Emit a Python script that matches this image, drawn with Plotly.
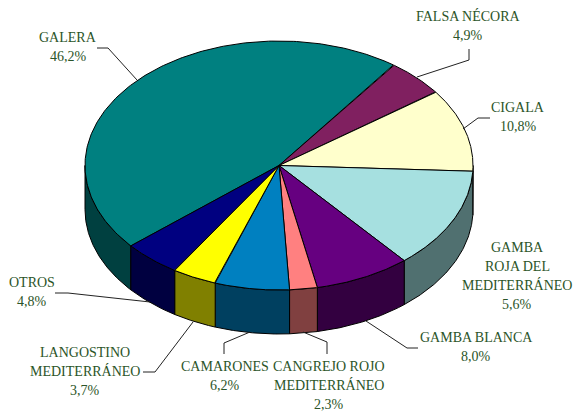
import numpy as np
import plotly.graph_objects as go

# Slices, clockwise from the Galera / Falsa nécora ordering of the reference.
species = ["GALERA", "FALSA NÉCORA", "CIGALA", "GAMBA ROJA DEL MEDITERRÁNEO", "GAMBA BLANCA",
           "CANGREJO ROJO MEDITERRÁNEO", "CAMARONES", "LANGOSTINO MEDITERRÁNEO", "OTROS"]
# Slice sizes as drawn. The reference prints 5,6% for Gamba roja, but its slice is drawn about 13,1% wide.
drawn_share = [46.2, 4.9, 10.8, 13.1, 8.0, 2.3, 6.2, 3.7, 4.8]
printed_label = ["46,2%", "4,9%", "10,8%", "5,6%", "8,0%", "2,3%", "6,2%", "3,7%", "4,8%"]
label_lines = [["GALERA"], ["FALSA NÉCORA"], ["CIGALA"], ["GAMBA", "ROJA DEL", "MEDITERRÁNEO"], ["GAMBA BLANCA"],
               ["CANGREJO ROJO", "MEDITERRÁNEO"], ["CAMARONES"], ["LANGOSTINO", "MEDITERRÁNEO"], ["OTROS"]]
top_colors = ["#008080", "#802060", "#FFFFCC", "#A6E0E0", "#660080", "#FF8080", "#0080C0", "#FFFF00", "#000080"]
side_colors = ["#004040", "#401030", "#808066", "#507070", "#330040", "#804040", "#004060", "#808000", "#000040"]

# Layout (pixel-like axes)
CX, CY, RX, RY, DEPTH = 279, 165.5, 194, 124.5, 44
START = -130.2  # clockwise degrees from top where Galera begins
TEXT = "#2B5428"
FONT = "Liberation Serif"
FS = 14
LINE = 19.2
label_pos = [(68, 37.5), (468, 16), (518, 107), (517, 247), (476, 337),
             (329, 366), (225, 366), (85, 352), (32, 282)]
leaders = [
    [(97, 48), (108, 48), (137, 80)],
    [(469, 49), (469, 60), (417, 77)],
    [(490, 118), (478, 118), (463, 129)],
    None,
    [(418, 348), (407, 348), (366, 321)],
    [(327, 354), (327, 342), (303, 332)],
    [(224, 354), (224, 343), (250, 332)],
    [(143, 372), (155, 372), (193, 322)],
    [(55, 293), (68, 293), (150, 302)],
]


def px(a):
    return CX + RX * np.sin(np.radians(a))


def py(a, drop=0.0):
    return CY - RY * np.cos(np.radians(a)) + drop


fig = go.Figure()
edges = START + np.concatenate([[0], np.cumsum(drawn_share)]) * 360 / sum(drawn_share)

# Side wall: only the front half (90° to 270°) is visible
for i in range(len(drawn_share)):
    for shift in (0, 360):
        a0 = max(edges[i] + shift, 90)
        a1 = min(edges[i + 1] + shift, 270)
        if a1 <= a0:
            continue
        arc = np.linspace(a0, a1, 80)
        xs = np.concatenate([px(arc), px(arc[::-1]), [px(arc[0])]])
        ys = np.concatenate([py(arc), py(arc[::-1], DEPTH), [py(arc[0])]])
        fig.add_trace(go.Scatter(x=xs, y=ys, mode="lines", fill="toself", fillcolor=side_colors[i],
                                 line=dict(color="black", width=1), hoverinfo="skip", showlegend=False))

# Top face
for i, name in enumerate(species):
    arc = np.linspace(edges[i], edges[i + 1], 200)
    xs = np.concatenate([[CX], px(arc), [CX]])
    ys = np.concatenate([[CY], py(arc), [CY]])
    fig.add_trace(go.Scatter(x=xs, y=ys, mode="lines", fill="toself", fillcolor=top_colors[i],
                             line=dict(color="black", width=1), name=name,
                             text=f"{name}: {printed_label[i]}", hoverinfo="text", showlegend=False))

# Leader lines
for pts in leaders:
    if pts:
        fig.add_trace(go.Scatter(x=[p[0] for p in pts], y=[p[1] for p in pts], mode="lines",
                                 line=dict(color="#222222", width=1), hoverinfo="skip", showlegend=False))

# Labels
for i in range(len(species)):
    x0, y0 = label_pos[i]
    for j, line in enumerate(label_lines[i] + [printed_label[i]]):
        fig.add_annotation(x=x0, y=y0 + j * LINE, text=line, showarrow=False, xanchor="center", yanchor="middle",
                           font=dict(family=FONT, size=FS, color=TEXT))

fig.update_layout(
    width=575, height=411, margin=dict(l=0, r=0, t=0, b=0),
    paper_bgcolor="white", plot_bgcolor="white", showlegend=False,
    xaxis=dict(range=[0, 575], visible=False, fixedrange=True),
    yaxis=dict(range=[411, 0], visible=False, fixedrange=True),
)
fig.write_html("out.html", config={"displayModeBar": False},
               post_script="document.body.style.margin='0';document.documentElement.style.overflow='hidden';")
